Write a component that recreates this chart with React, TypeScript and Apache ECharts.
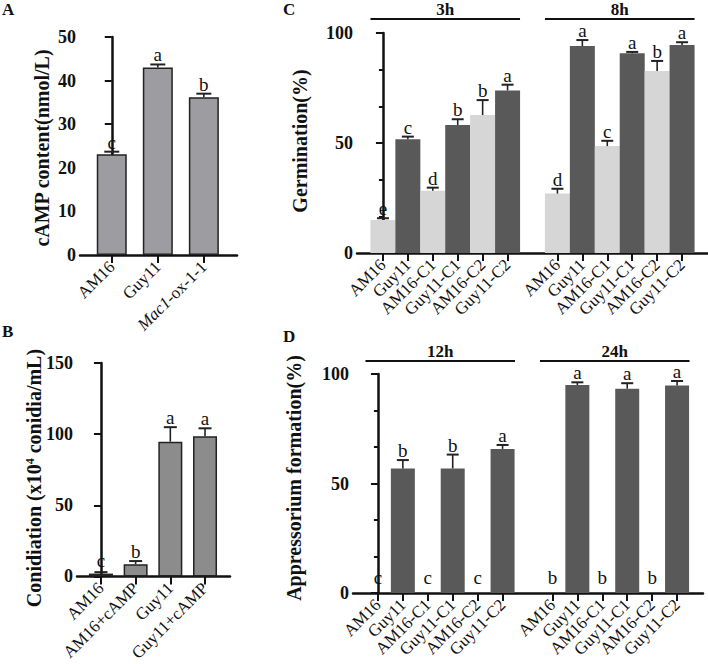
import React, { useEffect, useRef } from "react";
import * as echarts from "echarts";

const FONT = "'Liberation Serif', 'Times New Roman', serif";
const INK = "#111111";

// Panel A
const aCategories = ["AM16", "Guy11", "Mac1-ox-1-1"];
const aValues = [23.1, 43.0, 36.2];
const aErrors = [0.6, 0.7, 0.8];
const aLetters = ["c", "a", "b"];

// Panel B
const bCategories = ["AM16", "AM16+cAMP", "Guy11", "Guy11+cAMP"];
const bValues = [2.0, 8.6, 94.7, 98.6];
const bErrors = [1.0, 2.2, 10.2, 5.5];
const bLetters = ["c", "b", "a", "a"];

// Panels C and D share the strain list
const strainCategories = ["AM16", "Guy11", "AM16-C1", "Guy11-C1", "AM16-C2", "Guy11-C2"];
const strainShade = ["light", "dark", "light", "dark", "light", "dark"];

// Panel C (germination)
const cGroups = ["3h", "8h"];
const c3hValues = [15.0, 51.7, 28.3, 58.2, 62.7, 73.9];
const c3hErrors = [0.8, 1.2, 1.4, 2.6, 6.8, 2.6];
const c3hLetters = ["e", "c", "d", "b", "b", "a"];
const c8hValues = [27.0, 94.1, 48.6, 90.8, 82.7, 94.5];
const c8hErrors = [2.2, 2.7, 2.4, 0.6, 4.6, 1.3];
const c8hLetters = ["d", "a", "c", "a", "b", "a"];

// Panel D (appressorium formation)
const dGroups = ["12h", "24h"];
const d12hValues = [0, 56.9, 0, 56.9, 0, 65.8];
const d12hErrors = [0, 3.8, 0, 6.3, 0, 1.8];
const d12hLetters = ["c", "b", "c", "b", "c", "a"];
const d24hValues = [0, 95.0, 0, 93.3, 0, 94.7];
const d24hErrors = [0, 1.2, 0, 2.5, 0, 2.1];
const d24hLetters = ["b", "a", "b", "a", "b", "a"];

const SHADE_COLORS: Record<string, string> = { light: "#d6d6d6", dark: "#595959" };

// text style accepted both in legacy and modern form
function tStyle(text: string, font: string, align: string, vAlign: string, rich?: any) {
  return {
    text,
    font,
    textFont: font,
    align,
    textAlign: align,
    verticalAlign: vAlign,
    textVerticalAlign: vAlign,
    fill: INK,
    textFill: INK,
    rich,
  };
}

type PanelCfg = {
  idx: number;
  grid: { left: number; top: number; width: number; height: number };
  xMin: number;
  xMax: number;
  yMax: number;
  yInterval: number;
  minor: boolean;
  positions: number[];
  labels: string[];
  values: number[];
  errors: number[];
  letters: string[];
  colors: string[];
  border: boolean;
  barWidth: number;
  cap: number;
  labelRich?: any;
  labelFormatter?: (s: string) => string;
  groups?: { name: string; start: number; end: number }[];
  groupLineOffset?: number;
};

function buildPanel(p: PanelCfg) {
  const labelMap: Record<string, string> = {};
  p.positions.forEach((pos, i) => {
    labelMap[String(Math.round(pos))] = p.labelFormatter ? p.labelFormatter(p.labels[i]) : p.labels[i];
  });
  const xAxis = {
    type: "value",
    gridIndex: p.idx,
    min: p.xMin,
    max: p.xMax,
    splitLine: { show: false },
    axisLine: { show: true, onZero: false, lineStyle: { color: INK, width: 2.5 } },
    axisTick: { show: true, customValues: p.positions, length: 8, lineStyle: { color: INK, width: 2 } },
    axisLabel: {
      customValues: p.positions,
      formatter: (v: number) => labelMap[String(Math.round(v))] ?? "",
      rotate: 45,
      margin: 9,
      fontFamily: FONT,
      fontSize: 17,
      color: INK,
      rich: p.labelRich,
    },
  };
  const yAxis = {
    type: "value",
    gridIndex: p.idx,
    min: 0,
    max: p.yMax,
    interval: p.yInterval,
    splitLine: { show: false },
    axisLine: { show: true, lineStyle: { color: INK, width: 2.5 } },
    axisTick: { show: true, length: 7, lineStyle: { color: INK, width: 2 } },
    minorTick: { show: p.minor, splitNumber: 3, length: 4, lineStyle: { color: INK, width: 2 } },
    minorSplitLine: { show: false },
    axisLabel: { fontFamily: FONT, fontWeight: "bold", fontSize: 18, color: INK, margin: 4 },
  };
  const series: any[] = [
    {
      type: "bar",
      xAxisIndex: p.idx,
      yAxisIndex: p.idx,
      barWidth: p.barWidth,
      silent: true,
      data: p.positions.map((pos, i) => ({
        value: [pos, p.values[i]],
        itemStyle: {
          color: p.colors[i],
          borderColor: p.border ? "#222" : p.colors[i],
          borderWidth: p.border ? 1.5 : 0,
        },
      })),
    },
    {
      type: "custom",
      xAxisIndex: p.idx,
      yAxisIndex: p.idx,
      clip: false,
      silent: true,
      z: 5,
      data: p.positions.map((pos, i) => [pos, p.values[i], p.errors[i]]),
      renderItem: (params: any, api: any) => {
        const i = params.dataIndex;
        const x = api.value(0);
        const v = api.value(1);
        const e = api.value(2);
        const p0 = api.coord([x, v]);
        const p1 = api.coord([x, v + e]);
        const base = api.coord([x, 0]);
        const children: any[] = [];
        if (e > 0) {
          children.push({
            type: "line",
            shape: { x1: p0[0], y1: p0[1], x2: p1[0], y2: p1[1] },
            style: { stroke: "#222", lineWidth: 1.6 },
          });
          children.push({
            type: "line",
            shape: { x1: p1[0] - p.cap / 2, y1: p1[1], x2: p1[0] + p.cap / 2, y2: p1[1] },
            style: { stroke: "#222", lineWidth: 2 },
          });
        }
        const ty = Math.min(p1[1], base[1] - 6);
        children.push({
          type: "text",
          x: p1[0],
          y: ty,
          style: tStyle(p.letters[i], `19px ${FONT}`, "center", "bottom"),
        });
        return { type: "group", children };
      },
    },
  ];
  if (p.groups) {
    const groups = p.groups;
    series.push({
      type: "custom",
      xAxisIndex: p.idx,
      yAxisIndex: p.idx,
      clip: false,
      silent: true,
      data: groups.map((g) => [g.start - 0.5, g.end + 0.5]),
      renderItem: (params: any, api: any) => {
        const g = groups[params.dataIndex];
        const a = api.coord([api.value(0), p.yMax]);
        const b = api.coord([api.value(1), p.yMax]);
        const ly = a[1] - (p.groupLineOffset ?? 14);
        return {
          type: "group",
          children: [
            { type: "line", shape: { x1: a[0], y1: ly, x2: b[0], y2: ly }, style: { stroke: INK, lineWidth: 2 } },
            {
              type: "text",
              x: (a[0] + b[0]) / 2,
              y: ly - 1,
              style: tStyle(g.name, `bold 17px ${FONT}`, "center", "bottom"),
            },
          ],
        };
      },
    });
  }
  return { grid: { ...p.grid, containLabel: false }, xAxis, yAxis, series };
}

function groupedData(groupValues: number[][]) {
  const n = strainCategories.length;
  const positions: number[] = [];
  const values: number[] = [];
  groupValues.forEach((arr, g) => arr.forEach((v, i) => { positions.push(g * (n + 1) + i); values.push(v); }));
  return { positions, values };
}

function buildOption() {
  const n = strainCategories.length;
  const shadeColors = [...strainShade, ...strainShade].map((s) => SHADE_COLORS[s]);
  const cd = groupedData([c3hValues, c8hValues]);
  const dd = groupedData([d12hValues, d24hValues]);

  const panels = [
    buildPanel({
      idx: 0,
      grid: { left: 80, top: 37, width: 157, height: 218 },
      xMin: -0.69, xMax: 2.72, yMax: 50, yInterval: 10, minor: false,
      positions: aCategories.map((_, i) => i),
      labels: aCategories,
      values: aValues, errors: aErrors, letters: aLetters,
      colors: aCategories.map(() => "#9d9da1"),
      border: true, barWidth: 30, cap: 15,
      labelFormatter: (s) => (s.startsWith("Mac1") ? `{i|Mac1}${s.slice(4)}` : s),
      labelRich: { i: { fontStyle: "italic", fontFamily: FONT, fontSize: 17, color: INK } },
    }),
    buildPanel({
      idx: 1,
      grid: { left: 77, top: 363, width: 153, height: 215 },
      xMin: -0.69, xMax: 3.72, yMax: 150, yInterval: 50, minor: false,
      positions: bCategories.map((_, i) => i),
      labels: bCategories,
      values: bValues, errors: bErrors, letters: bLetters,
      colors: bCategories.map(() => "#8c8c8c"),
      border: true, barWidth: 24, cap: 13,
    }),
    buildPanel({
      idx: 2,
      grid: { left: 357, top: 33, width: 351, height: 220 },
      xMin: -1.04, xMax: 13.04, yMax: 100, yInterval: 50, minor: true,
      positions: cd.positions,
      labels: [...strainCategories, ...strainCategories],
      values: cd.values,
      errors: [...c3hErrors, ...c8hErrors],
      letters: [...c3hLetters, ...c8hLetters],
      colors: shadeColors,
      border: false, barWidth: 25, cap: 12,
      groups: cGroups.map((name, g) => ({ name, start: g * (n + 1), end: g * (n + 1) + n - 1 })),
      groupLineOffset: 14,
    }),
    buildPanel({
      idx: 3,
      grid: { left: 353, top: 374, width: 350, height: 219 },
      xMin: -1.0, xMax: 13.04, yMax: 100, yInterval: 50, minor: true,
      positions: dd.positions,
      labels: [...strainCategories, ...strainCategories],
      values: dd.values,
      errors: [...d12hErrors, ...d24hErrors],
      letters: [...d12hLetters, ...d24hLetters],
      colors: dd.values.map(() => SHADE_COLORS.dark),
      border: false, barWidth: 24, cap: 12,
      groups: dGroups.map((name, g) => ({ name, start: g * (n + 1), end: g * (n + 1) + n - 1 })),
      groupLineOffset: 13,
    }),
  ];

  const titleFont = `bold 20px ${FONT}`;
  const axisTitle = (text: string, x: number, y: number, rich?: any) => ({
    type: "text",
    x,
    y,
    rotation: Math.PI / 2,
    style: tStyle(text, titleFont, "center", "middle", rich),
  });
  const panelLetter = (text: string, x: number, y: number) => ({
    type: "text",
    x,
    y,
    style: tStyle(text, `bold 17px ${FONT}`, "left", "top"),
  });

  return {
    animation: false,
    backgroundColor: "#ffffff",
    grid: panels.map((p) => p.grid),
    xAxis: panels.map((p) => p.xAxis),
    yAxis: panels.map((p) => p.yAxis),
    series: panels.flatMap((p) => p.series),
    graphic: [
      panelLetter("A", 2, 1),
      panelLetter("B", 2, 323),
      panelLetter("C", 283, 1),
      panelLetter("D", 283, 328),
      axisTitle("cAMP content(nmol/L)", 42, 148),
      axisTitle("Conidiation (x10{sup|4} conidia/mL)", 34, 478, {
        sup: { font: `bold 12px ${FONT}`, textFont: `bold 12px ${FONT}`, fill: INK, textFill: INK, padding: [0, 0, 9, 0] },
      }),
      axisTitle("Germination(%)", 300, 141),
      axisTitle("Appressorium formation(%)", 294, 478),
    ],
  };
}

export default function App() {
  const ref = useRef<HTMLDivElement>(null);
  useEffect(() => {
    if (!ref.current) return;
    const chart = echarts.init(ref.current, null, { renderer: "svg" });
    chart.setOption(buildOption() as any);
    return () => chart.dispose();
  }, []);
  return (
    <div
      ref={ref}
      style={{ position: "fixed", left: 0, top: 0, width: 708, height: 664, background: "#fff" }}
    />
  );
}
